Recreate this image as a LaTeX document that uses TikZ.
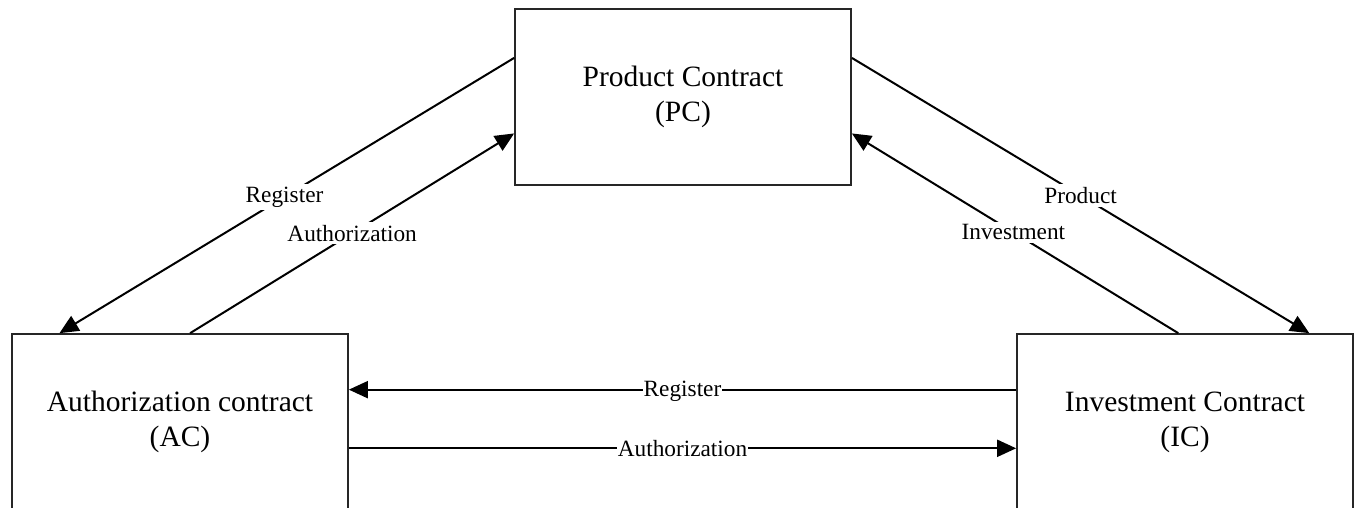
\documentclass[tikz,border=0pt]{standalone}
\usepackage{fontspec}
\setmainfont{Liberation Serif}
\usetikzlibrary{arrows.meta,calc}
\begin{document}
\begin{tikzpicture}[x=1pt,y=-1pt,
  contract/.style={draw=black!85, line width=1.7pt, rectangle, minimum width=336pt,
    minimum height=176pt, align=center, font=\fontsize{29.5}{35}\selectfont, inner sep=0pt},
  link/.style={line width=2pt, -{Triangle[length=19pt,width=17pt]}},
  lbl/.style={fill=white, inner sep=3pt, font=\fontsize{23.3}{26}\selectfont}]
\useasboundingbox (0,0) rectangle (1356,508);
\clip (0,0) rectangle (1356,508);

% the three contracts
\node[contract] (PC) at (683,97)  {Product Contract\\(PC)};
\node[contract] (AC) at (180,422) {Authorization contract\\(AC)};
\node[contract] (IC) at (1185,422) {Investment Contract\\(IC)};

% attachment points on the box edges
\coordinate (pcL1) at ($(PC.north west)!0.28!(PC.south west)$);
\coordinate (pcL2) at ($(PC.north west)!0.705!(PC.south west)$);
\coordinate (pcR1) at ($(PC.north east)!0.28!(PC.south east)$);
\coordinate (pcR2) at ($(PC.north east)!0.705!(PC.south east)$);
\coordinate (acT1) at ($(AC.north west)!0.143!(AC.north east)$);
\coordinate (acT2) at ($(AC.north west)!0.53!(AC.north east)$);
\coordinate (icT1) at ($(IC.north west)!0.48!(IC.north east)$);
\coordinate (icT2) at ($(IC.north west)!0.868!(IC.north east)$);
\coordinate (acR1) at ($(AC.north east)!0.318!(AC.south east)$);
\coordinate (acR2) at ($(AC.north east)!0.648!(AC.south east)$);
\coordinate (icL1) at ($(IC.north west)!0.318!(IC.south west)$);
\coordinate (icL2) at ($(IC.north west)!0.648!(IC.south west)$);

% connectors
\draw[link] (pcL1) -- node[lbl, pos=0.505] (l1) {Register} (acT1);
\draw[link] (acT2) -- node[lbl, pos=0.5] (l2) {Authorization} (pcL2);
\draw[link] (pcR1) -- node[lbl, pos=0.5] (l3) {Product} (icT2);
\draw[link] (icT1) -- node[lbl, pos=0.505] (l4) {Investment} (pcR2);
\draw[link] (icL1) -- node[lbl, inner sep=1pt, yshift=-2pt] (l5) {Register} (acR1);
\draw[link] (acR2) -- node[lbl, inner sep=1pt] (l6) {Authorization} (icL2);
\end{tikzpicture}
\end{document}
